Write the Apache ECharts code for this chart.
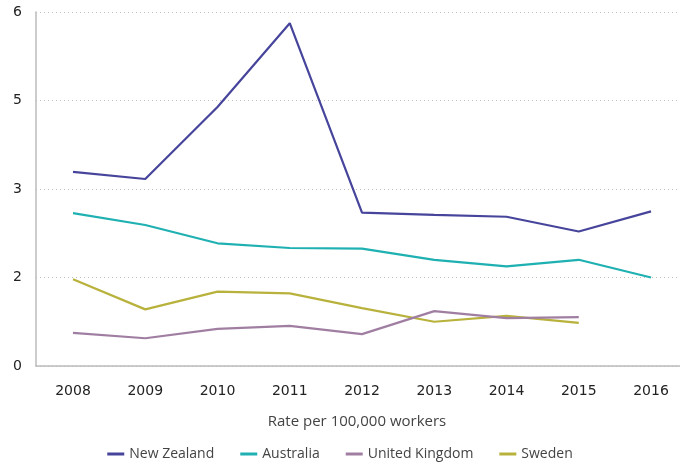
<!DOCTYPE html>
<html>
<head>
<meta charset="utf-8">
<script src="https://cdn.jsdelivr.net/npm/echarts@6/dist/echarts.min.js"></script>
<style>
  html, body { margin: 0; padding: 0; background: #fff; }
  #chart { width: 680px; height: 468px; }
</style>
</head>
<body>
<div id="chart"></div>
<script>
// years along the x axis
const years = [2008, 2009, 2010, 2011, 2012, 2013, 2014, 2015, 2016];

// rate per 100,000 workers
const newZealand = [3.29, 3.17, 4.39, 5.81, 2.60, 2.56, 2.53, 2.28, 2.62];
const australia = [2.59, 2.39, 2.08, 2.00, 1.99, 1.80, 1.69, 1.80, 1.50];
const unitedKingdom = [0.56, 0.47, 0.63, 0.68, 0.54, 0.93, 0.81, 0.83, null];
const sweden = [1.47, 0.96, 1.26, 1.23, 0.98, 0.75, 0.85, 0.73, null];

const seriesNames = ['New Zealand', 'Australia', 'United Kingdom', 'Sweden'];
const seriesData = [newZealand, australia, unitedKingdom, sweden];
const colors = ['#47459b', '#1fb0b2', '#a07ea2', '#b8b23c'];

const chart = echarts.init(document.getElementById('chart'));

const font = '"Open Sans", "Noto Sans", sans-serif';
const tickFont = '"DejaVu Sans", sans-serif';

chart.setOption({
    animation: false,
    color: colors,
    grid: { left: 36, top: 12, right: 0, height: 354 },
    legend: {
        bottom: 2,
        left: 'center',
        itemWidth: 17,
        itemHeight: 3,
        itemGap: 26,
        icon: 'rect',
        textStyle: { fontFamily: font, fontSize: 14, color: '#444' },
        data: seriesNames
    },
    xAxis: {
        type: 'value',
        min: 2007.488,
        max: 2016.401,
        name: 'Rate per 100,000 workers',
        nameLocation: 'middle',
        nameGap: 48,
        nameTextStyle: { fontFamily: font, fontSize: 15, color: '#444', padding: [0, 0, 0, -2] },
        axisLine: { lineStyle: { color: '#bbbbbb', width: 1.5 } },
        axisTick: { show: false },
        splitLine: { show: false },
        axisLabel: {
            fontFamily: tickFont, fontSize: 14, color: '#222', margin: 18,
            customValues: years,
            formatter: v => String(v)
        }
    },
    yAxis: {
        type: 'value',
        min: 0,
        max: 6,
        interval: 1.5,
        axisLine: { show: true, lineStyle: { color: '#bbbbbb', width: 1.5 } },
        axisTick: { show: false },
        splitLine: { lineStyle: { color: '#bdbdbd', type: [1, 3], width: 1 } },
        axisLabel: {
            fontFamily: tickFont, fontSize: 14, color: '#222', margin: 14,
            formatter: v => String(Math.round(v))
        }
    },
    series: seriesNames.map((name, i) => ({
        name: name,
        type: 'line',
        data: years.map((y, j) => [y, seriesData[i][j]]),
        symbol: 'none',
        lineStyle: { width: 2.2 },
        z: 4 - i
    }))
});
</script>
</body>
</html>
